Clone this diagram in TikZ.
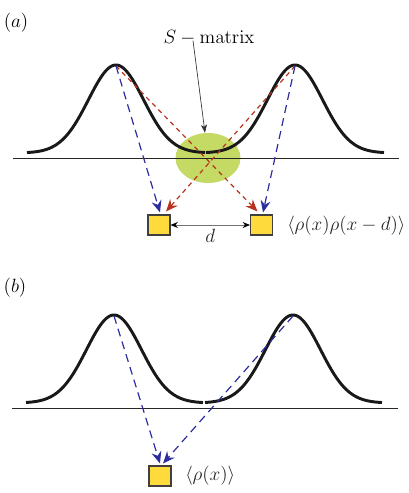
\documentclass[tikz,border=0pt]{standalone}
\usetikzlibrary{arrows.meta,calc,shapes.geometric}
\definecolor{dblue}{RGB}{45,45,160}
\definecolor{dred}{RGB}{185,50,30}
\definecolor{sgreen}{RGB}{196,218,100}
\definecolor{byellow}{RGB}{255,218,60}
\begin{document}
\begin{tikzpicture}[x=0.75pt,y=-0.75pt,
  curve/.style={line width=2.2pt,black!90,line join=round},
  baseline/.style={line width=0.75pt,black!85},
  bluearr/.style={dblue,line width=0.9pt,dash pattern=on 6pt off 4pt,-{Stealth[length=9pt,width=7.5pt,inset=3pt]}},
  redarr/.style={dred,line width=0.9pt,dash pattern=on 3.5pt off 3pt,-{Stealth[length=9pt,width=7.5pt,inset=3pt]}},
  detector/.style={draw=black!75,fill=byellow,line width=0.8pt,minimum width=16.5pt,minimum height=15pt,inner sep=0pt},
  smatrix/.style={ellipse,fill=sgreen,minimum width=48.75pt,minimum height=37.5pt,inner sep=0pt},
  lbl/.style={font=\fontsize{13.5}{16}\selectfont,inner sep=0pt}
]
\useasboundingbox (0,0) rectangle (409,493);
% ---------------- panel (a) ----------------
\node[lbl] (la) at (16,23) {$(a)$};
\node[smatrix] (smat) at (208,158) {};
\draw[baseline] (13,158) -- (399,158);
\draw[curve] plot[domain=27:205,samples=120] (\x,{153-88*exp(-0.5*((\x-116)/27.5)^2)});
\draw[curve] plot[domain=206:384,samples=120] (\x,{153-88*exp(-0.5*((\x-295)/27.5)^2)});
\coordinate (pa1) at (116,66);
\coordinate (pa2) at (295,66);
\node[detector] (lbox) at (159,225) {};
\node[detector] (rbox) at (261.5,225) {};
\node[lbl] (smlabel) at (209,38) {$S-\mathrm{matrix}$};
\draw[black!80,line width=0.5pt,-{Stealth[length=6pt,width=4.5pt,inset=1.5pt]}] ($(smlabel.south)+(-16,-5)$) -- ($(smat.north)+(-3,0)$);
\draw[redarr] (pa1) -- ($(rbox.north)+(-4,-3)$);
\draw[redarr] (pa2) -- ($(lbox.north)+(7,-3)$);
\draw[bluearr] (pa1) -- ($(lbox.north)+(1,-2)$);
\draw[bluearr] (pa2) -- ($(rbox.north)+(1.5,-2)$);
\draw[black!55,line width=0.6pt,{Stealth[length=5.5pt,width=4.5pt,black]}-{Stealth[length=5.5pt,width=4.5pt,black]}] (lbox.east) -- (rbox.west) node[midway,below=3pt,lbl,text=black!85] (dl) {$d$};
\node[lbl,anchor=west,text=black!85] (corr) at (287,226) {$\langle\rho(x)\rho(x-d)\rangle$};
% ---------------- panel (b) ----------------
\node[lbl] (lb) at (15,288) {$(b)$};
\draw[baseline] (12,408) -- (398,408);
\draw[curve] plot[domain=26:203,samples=120] (\x,{403-88*exp(-0.5*((\x-114)/27.5)^2)});
\draw[curve] plot[domain=205:382,samples=120] (\x,{403-88*exp(-0.5*((\x-293)/27.5)^2)});
\coordinate (pb1) at (114,316);
\coordinate (pb2) at (293,316);
\node[detector] (box) at (160,476) {};
\draw[bluearr] (pb1) -- ($(box.north)+(0,-2)$);
\draw[bluearr] (pb2) -- ($(box.north)+(3,-2)$);
\node[lbl,anchor=west,text=black!85] (dens) at (185,476) {$\langle\rho(x)\rangle$};
\end{tikzpicture}
\end{document}
